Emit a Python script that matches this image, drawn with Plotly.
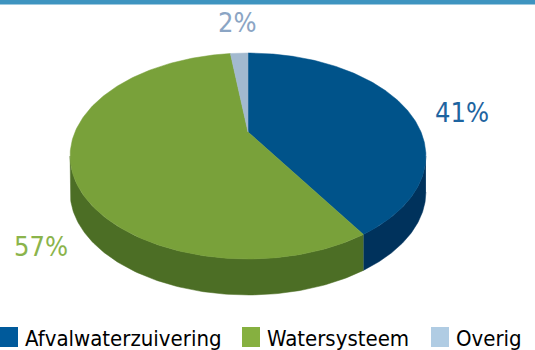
import numpy as np
import plotly.graph_objects as go

# ---- data ----
categories = ["Afvalwaterzuivering", "Watersysteem", "Overig"]
values = [41, 57, 2]

# ---- style ----
top_colors = ["rgb(0,83,138)", "rgb(121,161,58)", "rgb(162,185,207)"]
side_colors = ["rgb(0,50,92)", "rgb(76,110,37)", "rgb(120,140,160)"]
label_colors = ["rgb(30,100,160)", "rgb(139,180,75)", "rgb(139,165,196)"]
legend_colors = ["rgb(0,90,155)", "rgb(134,176,64)", "rgb(176,204,227)"]
label_pos = [(462, 112), (41, 246), (237, 22)]
legend_x = [0, 242, 431]
FONT = "DejaVu Sans Condensed, DejaVu Sans, Verdana, sans-serif"

W, H = 535, 350
CX, CY = 248, 132          # apex of the pie (projected centre)
A, B, K = 173, 97.4, 0.233 # ellipse radii and perspective factor
D = 36                     # pie thickness


def proj(theta_deg, r=1.0):
    t = np.radians(theta_deg)
    u, v = r * np.sin(t), r * np.cos(t)
    den = 1 + K * v
    return CX + A * u / den, CY - B * v / den


# visible front range of the rim (silhouette)
th_right = np.degrees(np.arccos(-K))
th_left = 360 - th_right

total = sum(values)
bounds = np.concatenate([[0], np.cumsum(values) / total * 360])

fig = go.Figure()

# side walls
for i, cat in enumerate(categories):
    t1, t2 = max(bounds[i], th_right), min(bounds[i + 1], th_left)
    if t2 <= t1:
        continue
    ts = np.linspace(t1, t2, 120)
    xt, yt = proj(ts)
    xs = np.concatenate([xt, xt[::-1]])
    ys = np.concatenate([yt, (yt + D)[::-1]])
    fig.add_trace(go.Scatter(x=xs, y=ys, fill="toself", mode="lines",
                             fillcolor=side_colors[i],
                             line=dict(color=side_colors[i], width=0.5),
                             hoverinfo="skip", showlegend=False))

# top faces
for i, cat in enumerate(categories):
    ts = np.linspace(bounds[i], bounds[i + 1], 200)
    xt, yt = proj(ts)
    xs = np.concatenate([[CX], xt, [CX]])
    ys = np.concatenate([[CY], yt, [CY]])
    fig.add_trace(go.Scatter(x=xs, y=ys, fill="toself", mode="lines",
                             fillcolor=top_colors[i],
                             line=dict(color=top_colors[i], width=0.5),
                             name=cat, hoverinfo="name", showlegend=False))

annotations = []
shapes = [dict(type="rect", xref="x", yref="y", x0=0, x1=W, y0=0, y1=4.5,
               fillcolor="rgb(62,148,192)", line=dict(width=0), layer="above")]

# percentage labels
for i, v in enumerate(values):
    annotations.append(dict(x=label_pos[i][0], y=label_pos[i][1], xref="x", yref="y",
                            text=f"{v}%", showarrow=False,
                            font=dict(family=FONT, size=27, color=label_colors[i]),
                            xanchor="center", yanchor="middle"))

# legend
for i, cat in enumerate(categories):
    shapes.append(dict(type="rect", xref="x", yref="y",
                       x0=legend_x[i], x1=legend_x[i] + 18, y0=327, y1=347,
                       fillcolor=legend_colors[i], line=dict(width=0)))
    annotations.append(dict(x=legend_x[i] + 23, y=338, xref="x", yref="y",
                            text=cat, showarrow=False,
                            font=dict(family=FONT, size=22, color="black"),
                            xanchor="left", yanchor="middle"))

fig.update_layout(
    width=W, height=H, autosize=False,
    margin=dict(l=0, r=0, t=0, b=0),
    paper_bgcolor="white", plot_bgcolor="white",
    xaxis=dict(range=[0, W], visible=False, fixedrange=True),
    yaxis=dict(range=[H, 0], visible=False, fixedrange=True),
    shapes=shapes, annotations=annotations, showlegend=False,
)

fig.write_html("out.html")
